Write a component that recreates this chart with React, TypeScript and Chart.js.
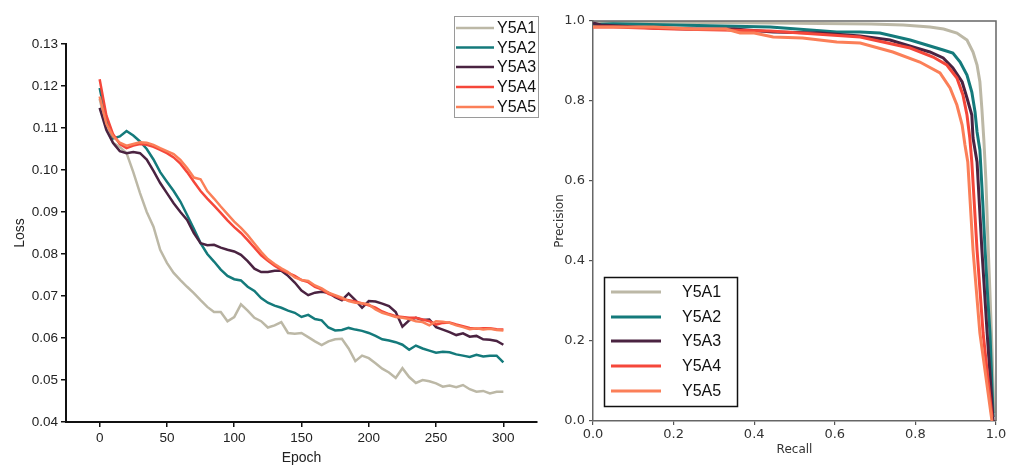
import React, { useEffect, useRef } from "react";
import { Chart, registerables } from "chart.js";

Chart.register(...registerables);

// ---------- Loss panel data ----------
const seriesNames = ["Y5A1", "Y5A2", "Y5A3", "Y5A4", "Y5A5"];
const seriesColors = ["#bcb8a6", "#147a7b", "#4a2341", "#f5473a", "#fb7f58"];

const lossEpochs = [
  0, 5, 10, 15, 20, 25, 30, 35, 40, 45, 50, 55, 60, 65, 70, 75, 80, 85, 90, 95,
  100, 105, 110, 115, 120, 125, 130, 135, 140, 145, 150, 155, 160, 165, 170, 175,
  180, 185, 190, 195, 200, 205, 210, 215, 220, 225, 230, 235, 240, 245, 250, 255,
  260, 265, 270, 275, 280, 285, 290, 295, 300,
];

const lossY5A1 = [
  0.117, 0.11, 0.1065, 0.1055, 0.104, 0.0995, 0.0945, 0.09, 0.0865, 0.081, 0.0779,
  0.0755, 0.0738, 0.0722, 0.0707, 0.069, 0.0674, 0.0662, 0.0662, 0.064, 0.065,
  0.068, 0.0665, 0.0648, 0.064, 0.0625, 0.063, 0.0638, 0.0612, 0.061, 0.0612,
  0.0602, 0.0592, 0.0583, 0.0592, 0.0597, 0.0598, 0.0575, 0.0545, 0.0558, 0.0552,
  0.054, 0.0527, 0.0518, 0.0505, 0.0528, 0.0507, 0.0493, 0.05, 0.0497, 0.0492,
  0.0484, 0.0487, 0.0483, 0.0488, 0.0478, 0.0472, 0.0474, 0.0468, 0.0472, 0.0472,
];
const lossY5A2 = [
  0.1195, 0.112, 0.1075, 0.108, 0.1093, 0.1082, 0.1068, 0.105, 0.1025, 0.0995,
  0.0972, 0.095, 0.0925, 0.0893, 0.086, 0.0826, 0.08, 0.0782, 0.0763, 0.0748,
  0.074, 0.0737, 0.0722, 0.0712, 0.0695, 0.0684, 0.0677, 0.0672, 0.0665, 0.066,
  0.065, 0.0655, 0.0645, 0.0642, 0.0625, 0.0618, 0.0619, 0.0624, 0.062, 0.0617,
  0.0612, 0.0605, 0.0597, 0.0594, 0.059, 0.0584, 0.0572, 0.0582, 0.0575, 0.057,
  0.0565, 0.0567, 0.0566, 0.0561, 0.0558, 0.0555, 0.056, 0.0556, 0.0558, 0.0558,
  0.0542,
];
const lossY5A3 = [
  0.1148, 0.1095, 0.1064, 0.1045, 0.104, 0.1043, 0.104, 0.1025, 0.0998, 0.0969,
  0.0945, 0.0921, 0.09, 0.0881, 0.085, 0.0826, 0.0821, 0.0822, 0.0815, 0.081,
  0.0806, 0.0798, 0.0783, 0.0765, 0.0757, 0.0757, 0.076, 0.076, 0.0748, 0.0732,
  0.0713, 0.0702, 0.0708, 0.071, 0.0708, 0.0697, 0.069, 0.0706, 0.069, 0.0672,
  0.0688, 0.0687, 0.0682, 0.0676, 0.0662, 0.0627, 0.0642, 0.0648, 0.0643, 0.0644,
  0.0626, 0.062, 0.0614, 0.0607, 0.0611, 0.0603, 0.0605, 0.0597, 0.0596, 0.0593,
  0.0584,
];
const lossY5A4 = [
  0.1216, 0.113, 0.1085, 0.1062, 0.1052, 0.1058, 0.1062, 0.106, 0.1055, 0.1048,
  0.104, 0.103, 0.1015, 0.0995, 0.0972, 0.095, 0.0932, 0.0915, 0.0898, 0.088,
  0.0864, 0.085, 0.0833, 0.0815, 0.0797, 0.0784, 0.0772, 0.0762, 0.0755, 0.0748,
  0.0738, 0.0733, 0.0722, 0.0716, 0.0705, 0.07, 0.0693, 0.069, 0.0687, 0.0682,
  0.0678, 0.0672, 0.0663, 0.0657, 0.0652, 0.065, 0.0648, 0.0648, 0.0644, 0.064,
  0.0632, 0.0636, 0.0637, 0.0632, 0.0628, 0.0624, 0.0622, 0.0623, 0.0623, 0.0621,
  0.062,
];
const lossY5A5 = [
  0.1175, 0.111, 0.108, 0.1065, 0.1058, 0.1062, 0.1066, 0.1065, 0.106, 0.1052,
  0.1045, 0.1038, 0.1024, 0.1005, 0.0982, 0.0978, 0.095, 0.0932, 0.0913, 0.0895,
  0.0877, 0.0862, 0.0845, 0.0825, 0.0805, 0.0788, 0.0776, 0.0766, 0.0757, 0.0744,
  0.0738, 0.0736, 0.0725, 0.0718, 0.0708, 0.0702, 0.0696, 0.0688, 0.0684, 0.0683,
  0.068, 0.0668, 0.066, 0.0655, 0.065, 0.0648, 0.0645, 0.064, 0.0638, 0.063,
  0.064, 0.0639, 0.0636, 0.063, 0.0626, 0.0621, 0.0623, 0.062, 0.0622, 0.0619,
  0.0618,
];
const lossSeries = [lossY5A1, lossY5A2, lossY5A3, lossY5A4, lossY5A5];

const lossXTicks = [0, 50, 100, 150, 200, 250, 300];
const lossYTicks = [0.04, 0.05, 0.06, 0.07, 0.08, 0.09, 0.1, 0.11, 0.12, 0.13];

// ---------- Precision-Recall panel data ----------
const prRecallY5A1 = [0, 0.05, 0.2, 0.44, 0.69, 0.77, 0.836, 0.87, 0.903, 0.928, 0.943, 0.953, 0.96, 0.965, 0.97, 0.975, 0.98, 0.985, 0.99, 0.995];
const prPrecisionY5A1 = [0.995, 0.997, 0.997, 0.995, 0.9925, 0.99, 0.985, 0.98, 0.97, 0.9525, 0.9225, 0.89, 0.848, 0.78, 0.7, 0.6, 0.45, 0.32, 0.18, 0.02];

const prRecallY5A2 = [0, 0.02, 0.05, 0.2, 0.44, 0.605, 0.663, 0.712, 0.787, 0.828, 0.869, 0.893, 0.911, 0.928, 0.94, 0.948, 0.953, 0.96, 0.967, 0.973, 0.98, 0.985, 0.993];
const prPrecisionY5A2 = [0.99, 0.992, 0.993, 0.99, 0.985, 0.9725, 0.9725, 0.97, 0.9525, 0.94, 0.9275, 0.92, 0.8975, 0.865, 0.8225, 0.7725, 0.7225, 0.6775, 0.55, 0.4275, 0.3, 0.22, 0.01];

const prRecallY5A3 = [0, 0.02, 0.15, 0.25, 0.35, 0.447, 0.563, 0.663, 0.737, 0.794, 0.836, 0.869, 0.893, 0.916, 0.928, 0.94, 0.943, 0.953, 0.965, 0.978, 0.993];
const prPrecisionY5A3 = [0.995, 0.99, 0.9825, 0.98, 0.98, 0.9725, 0.97, 0.9625, 0.9525, 0.935, 0.9225, 0.9075, 0.8825, 0.8475, 0.8075, 0.765, 0.7075, 0.6475, 0.4275, 0.22, 0.0];

const prRecallY5A4 = [0, 0.05, 0.2, 0.44, 0.663, 0.787, 0.844, 0.878, 0.903, 0.918, 0.928, 0.935, 0.94, 0.953, 0.968, 0.99];
const prPrecisionY5A4 = [0.985, 0.985, 0.98, 0.975, 0.96, 0.9325, 0.91, 0.89, 0.8575, 0.815, 0.765, 0.7075, 0.6475, 0.4275, 0.22, 0.01];

const prRecallY5A5 = [0, 0.02, 0.067, 0.15, 0.25, 0.33, 0.365, 0.4, 0.447, 0.52, 0.605, 0.663, 0.744, 0.811, 0.861, 0.886, 0.903, 0.916, 0.923, 0.93, 0.943, 0.96, 0.99];
const prPrecisionY5A5 = [0.985, 0.985, 0.985, 0.985, 0.98, 0.98, 0.97, 0.97, 0.96, 0.9575, 0.9475, 0.945, 0.9225, 0.8975, 0.87, 0.8325, 0.79, 0.74, 0.69, 0.6475, 0.4275, 0.22, 0.0];

const prRecall = [prRecallY5A1, prRecallY5A2, prRecallY5A3, prRecallY5A4, prRecallY5A5];
const prPrecision = [prPrecisionY5A1, prPrecisionY5A2, prPrecisionY5A3, prPrecisionY5A4, prPrecisionY5A5];

// ---------- helpers ----------
const SANS = "'Liberation Sans', Arial, sans-serif";
const DEJAVU = "'DejaVu Sans', sans-serif";

type LegendCfg = {
  box: [number, number, number, number];
  borderColor: string;
  borderWidth: number;
  lineX: [number, number];
  lineWidth: number;
  textX: number;
  rowsY: number[];
  fontSize: number;
};

function makeLegendPlugin(id: string, cfg: LegendCfg) {
  return {
    id,
    afterDraw(chart: any) {
      const ctx = chart.ctx as CanvasRenderingContext2D;
      ctx.save();
      const [x0, y0, x1, y1] = cfg.box;
      ctx.fillStyle = "#ffffff";
      ctx.fillRect(x0, y0, x1 - x0, y1 - y0);
      ctx.strokeStyle = cfg.borderColor;
      ctx.lineWidth = cfg.borderWidth;
      ctx.strokeRect(x0, y0, x1 - x0, y1 - y0);
      ctx.font = `${cfg.fontSize}px ${SANS}`;
      ctx.textBaseline = "middle";
      ctx.textAlign = "left";
      seriesNames.forEach((name, i) => {
        const y = cfg.rowsY[i];
        ctx.strokeStyle = seriesColors[i];
        ctx.lineWidth = cfg.lineWidth;
        ctx.beginPath();
        ctx.moveTo(cfg.lineX[0], y);
        ctx.lineTo(cfg.lineX[1], y);
        ctx.stroke();
        ctx.fillStyle = "#111";
        ctx.fillText(name, cfg.textX, y + 1);
      });
      ctx.restore();
    },
  };
}

const boxPlugin = {
  id: "prBox",
  afterDatasetsDraw(chart: any) {
    const { left, right, top, bottom } = chart.chartArea;
    const ctx = chart.ctx as CanvasRenderingContext2D;
    ctx.save();
    ctx.strokeStyle = "#666";
    ctx.lineWidth = 1.5;
    ctx.beginPath();
    ctx.moveTo(left, top);
    ctx.lineTo(right, top);
    ctx.lineTo(right, bottom);
    ctx.stroke();
    ctx.restore();
  },
};

function useChart(ref: React.RefObject<HTMLCanvasElement>, makeConfig: () => any) {
  useEffect(() => {
    if (!ref.current) return;
    const chart = new Chart(ref.current, makeConfig());
    return () => chart.destroy();
  }, []);
}

function LossChart() {
  const ref = useRef<HTMLCanvasElement>(null);
  useChart(ref, () => ({
    type: "line",
    data: {
      datasets: lossSeries.map((vals, i) => ({
        label: seriesNames[i],
        data: lossEpochs.map((e, j) => ({ x: e, y: vals[j] })),
        borderColor: seriesColors[i],
        backgroundColor: seriesColors[i],
        borderWidth: 2.5,
        pointRadius: 0,
        tension: 0,
        fill: false,
        order: 5 - i,
      })),
    },
    options: {
      responsive: false,
      animation: false,
      events: [],
      layout: { padding: { top: 44, right: 8, left: 0, bottom: 0 } },
      plugins: { legend: { display: false }, tooltip: { enabled: false } },
      scales: {
        x: {
          type: "linear",
          min: -25,
          max: 325,
          afterBuildTicks: (s: any) => {
            s.ticks = lossXTicks.map((v) => ({ value: v }));
          },
          afterFit: (s: any) => {
            s.height = 45;
          },
          grid: { drawOnChartArea: false, drawTicks: true, tickLength: 5, color: "#111", lineWidth: 1.5 },
          border: { display: true, color: "#111", width: 2 },
          ticks: {
            font: { family: SANS, size: 13.5 },
            color: "#222",
            padding: 3,
            maxRotation: 0,
            autoSkip: false,
            callback: (v: any) => String(v),
          },
          title: {
            display: true,
            text: "Epoch",
            font: { family: SANS, size: 14 },
            color: "#222",
            padding: { top: 0, bottom: 0 },
          },
        },
        y: {
          type: "linear",
          min: 0.04,
          max: 0.13,
          afterBuildTicks: (s: any) => {
            s.ticks = lossYTicks.map((v) => ({ value: v }));
          },
          afterFit: (s: any) => {
            s.width = 66;
          },
          grid: { drawOnChartArea: false, drawTicks: true, tickLength: 5, color: "#111", lineWidth: 1.5 },
          border: { display: true, color: "#111", width: 2 },
          ticks: {
            font: { family: SANS, size: 13.5 },
            color: "#222",
            padding: 3,
            autoSkip: false,
            callback: (v: any) => Number(v).toFixed(2),
          },
          title: {
            display: true,
            text: "Loss",
            font: { family: SANS, size: 14 },
            color: "#222",
            padding: { top: 11.6, bottom: 0 },
          },
        },
      },
    },
    plugins: [
      makeLegendPlugin("lossLegend", {
        box: [454.5, 16.5, 538.5, 117.5],
        borderColor: "#9a9a9a",
        borderWidth: 1,
        lineX: [456, 494],
        lineWidth: 2.5,
        textX: 497,
        rowsY: [28, 47.5, 67, 87, 107],
        fontSize: 16,
      }),
    ],
  }));
  return (
    <canvas
      ref={ref}
      width={545}
      height={467}
      style={{ position: "absolute", left: 0, top: 0, width: 545, height: 467 }}
    />
  );
}

function PRChart() {
  const ref = useRef<HTMLCanvasElement>(null);
  useChart(ref, () => ({
    type: "line",
    data: {
      datasets: prRecall.map((rs, i) => ({
        label: seriesNames[i],
        data: rs.map((r, j) => ({ x: r, y: prPrecision[i][j] })),
        borderColor: seriesColors[i],
        backgroundColor: seriesColors[i],
        borderWidth: 3,
        pointRadius: 0,
        tension: 0,
        fill: false,
        order: 5 - i,
      })),
    },
    options: {
      responsive: false,
      animation: false,
      events: [],
      layout: { padding: { top: 21, right: 15, left: 0, bottom: 0 } },
      plugins: { legend: { display: false }, tooltip: { enabled: false } },
      scales: {
        x: {
          type: "linear",
          min: 0,
          max: 1,
          ticks: {
            stepSize: 0.2,
            font: { family: DEJAVU, size: 13 },
            color: "#333",
            padding: 2,
            maxRotation: 0,
            callback: (v: any) => Number(v).toFixed(1),
          },
          afterFit: (s: any) => {
            s.height = 46;
          },
          grid: { drawOnChartArea: false, drawTicks: true, tickLength: 4, color: "#555", lineWidth: 1.2 },
          border: { display: true, color: "#666", width: 1.5 },
          title: {
            display: true,
            text: "Recall",
            font: { family: DEJAVU, size: 12 },
            color: "#333",
            padding: { top: 0, bottom: 9.8 },
          },
        },
        y: {
          type: "linear",
          min: 0,
          max: 1,
          ticks: {
            stepSize: 0.2,
            font: { family: DEJAVU, size: 13 },
            color: "#333",
            padding: 4,
            callback: (v: any) => Number(v).toFixed(1),
          },
          afterFit: (s: any) => {
            s.width = 48;
          },
          grid: { drawOnChartArea: false, drawTicks: true, tickLength: 4, color: "#555", lineWidth: 1.2 },
          border: { display: true, color: "#666", width: 1.5 },
          title: {
            display: true,
            text: "Precision",
            font: { family: DEJAVU, size: 12 },
            color: "#333",
            padding: { top: 7.8, bottom: 0 },
          },
        },
      },
    },
    plugins: [
      boxPlugin,
      makeLegendPlugin("prLegend", {
        box: [59.5, 277.5, 192.5, 406.5],
        borderColor: "#111",
        borderWidth: 1.5,
        lineX: [66, 116],
        lineWidth: 3,
        textX: 137,
        rowsY: [292, 317, 341, 366, 391],
        fontSize: 16,
      }),
    ],
  }));
  return (
    <canvas
      ref={ref}
      width={466}
      height={467}
      style={{ position: "absolute", left: 545, top: 0, width: 466, height: 467 }}
    />
  );
}

export default function App() {
  return (
    <div
      style={{
        position: "fixed",
        left: 0,
        top: 0,
        width: 1011,
        height: 467,
        background: "#ffffff",
        overflow: "hidden",
      }}
    >
      <LossChart />
      <PRChart />
    </div>
  );
}
